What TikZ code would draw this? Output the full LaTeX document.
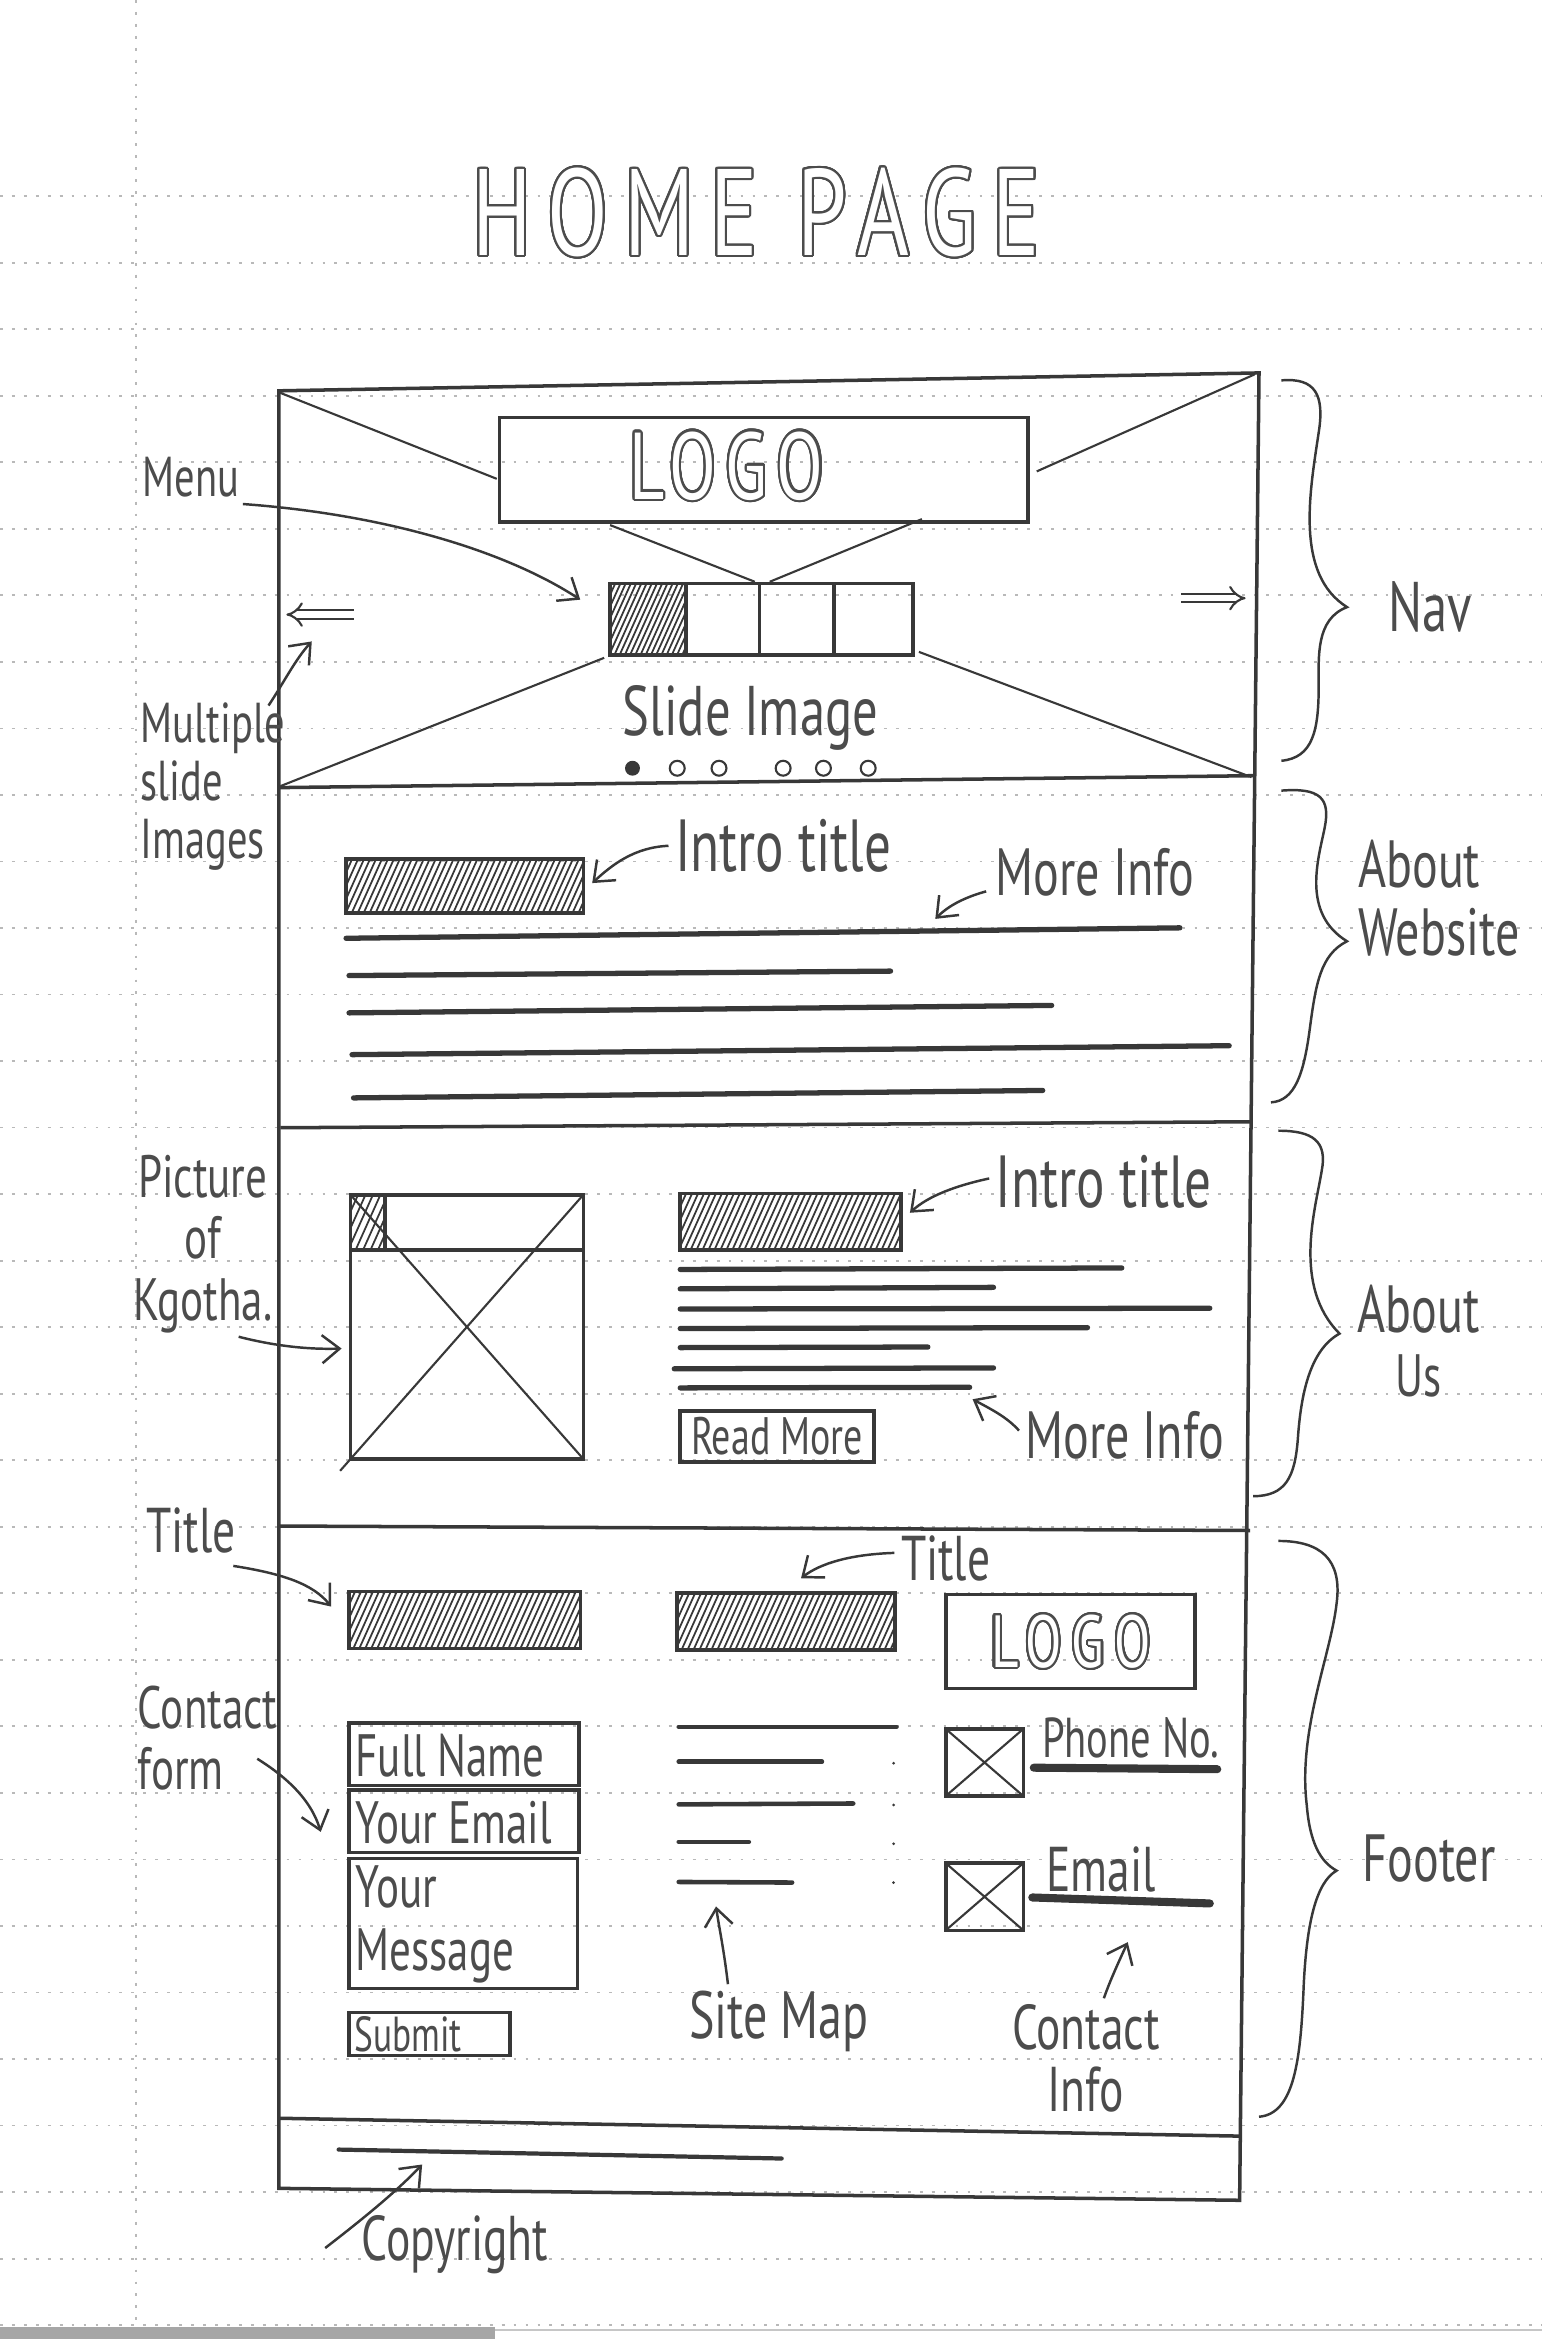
\documentclass[tikz,border=0pt]{standalone}
\usepackage{fontspec}
\usepackage{contour}
\usetikzlibrary{arrows.meta}
\newfontfamily\hand{PT Sans}[FakeStretch=0.72]
\definecolor{pencil}{gray}{0.22}
\definecolor{lead}{gray}{0.30}
\newcommand\fs[1]{\hand\fontsize{#1}{#1}\selectfont}
% hollow, double-stroked lettering
\newcommand\hollow[1]{\contour{lead}{\textcolor{white}{#1}}}
% diagonal pencil shading inside a rectangle: x1,y1,x2,y2,step
\newcommand\hatchrect[5]{%
  \begin{scope}
    \clip (#1,#2) rectangle (#3,#4);
    \pgfmathsetmacro\hA{#1-0.45*(#4-#2)}
    \pgfmathsetmacro\hB{\hA+#5}
    \foreach \hx in {\hA,\hB,...,#3}
      \draw[hatch] (\hx,#4) -- ({\hx+0.45*(#4-#2)},#2);
  \end{scope}
  \draw[frame] (#1,#2) rectangle (#3,#4);}
\tikzset{
  rule/.style={gray!55, line width=0.5pt, dash pattern=on 0.8pt off 2.6pt},
  frame/.style={pencil, line width=1.0pt},
  thinline/.style={pencil, line width=0.6pt},
  textbar/.style={pencil, line width=1.5pt, line cap=round},
  hatch/.style={pencil, line width=0.5pt},
  lbl/.style={text=lead, inner sep=0pt},
  note/.style={pencil, line width=0.7pt, -{Straight Barb[length=5pt,width=8pt]}},
  brace/.style={pencil, line width=0.7pt},
  slidedot/.style={pencil, line width=0.6pt},
  swipe/.style={pencil, line width=0.6pt, double distance=1.8pt, -{Implies[length=4pt]}},
}
\begin{document}
\contourlength{0.6pt}
\contournumber{32}
\begin{tikzpicture}[x=0.14923mm, y=-0.14923mm]
\useasboundingbox (0,0) rectangle (1034,1568);
\fill[white] (0,0) rectangle (1034,1568);

% ruled notebook paper
\foreach \k in {0,...,32}
  \draw[rule] (0,{131.5+44.6*\k}) -- (1034,{131.5+44.6*\k});
\draw[rule] (91,0) -- (91,1568);
\draw[gray!45, line width=0.6pt] (0,1562) -- (1034,1562);
\fill[gray!70] (0,1560) rectangle (332,1568);

% heading
\node[lbl, font=\fs{35}\addfontfeature{LetterSpace=13}] (heading) at (507,143) {\hollow{HOME PAGE}};

% page frame and section dividers
\coordinate (fA) at (187,262);
\coordinate (fB) at (844,250);
\coordinate (fC) at (831,1475);
\coordinate (fD) at (187,1467);
\draw[frame] (fA) -- (fB) -- (fC) -- (fD) -- cycle;
\draw[frame] (187,528) -- (840,520);
\draw[frame] (188,756) -- (839,752);
\draw[frame] (187,1023) -- (838,1026);
\draw[frame] (187,1420) -- (832,1432);

% ---------- Nav / slider ----------
\draw[thinline] (187,263) -- (333,321);
\draw[thinline] (841,251) -- (695,316);
\draw[thinline] (409,352) -- (506,390);
\draw[thinline] (618,348) -- (516,390);
\draw[thinline] (405,441) -- (188,527);
\draw[thinline] (616,437) -- (839,521);
\draw[frame] (335,280) rectangle (689,350);
\node[lbl, font=\fs{27}\addfontfeature{LetterSpace=10}] (navlogo) at (487,313) {\hollow{LOGO}};
\hatchrect{409}{391}{460}{439}{3.5}
\draw[frame] (409,391) rectangle (612,439);
\draw[frame] (460,391) -- (460,439) (509,391) -- (509,439) (559,391) -- (559,439);
\node[lbl, font=\fs{20}] (slide) at (503,481) {Slide Image};
\fill[pencil] (424,515) circle (5);
\foreach \dx in {454,482,525,552,582}
  \draw[slidedot] (\dx,515) circle (5);
\coordinate (prevA) at (237,412);
\coordinate (prevB) at (192,412);
\coordinate (nextA) at (792,401);
\coordinate (nextB) at (835,401);
\draw[swipe] (prevA) -- (prevB);
\draw[swipe] (nextA) -- (nextB);

\node[lbl, font=\fs{16}] (menu) at (128,320) {Menu};
\coordinate (menuT) at (389,402);
\draw[note] (menu.south east) ++(2,4) .. controls (260,345) and (340,370) .. (menuT);
\node[lbl, font=\hand\fontsize{16}{16.5}\selectfont, align=left, anchor=west] (multi) at (94,527) {Multiple\\slide\\Images};
\coordinate (multiS) at (180,473);
\coordinate (multiT) at (209,430);
\draw[note] (multiS) .. controls (190,458) and (198,442) .. (multiT);

% ---------- About Website ----------
\hatchrect{232}{576}{391}{612}{4}
\node[lbl, font=\fs{21}] (intro1) at (525,567) {Intro title};
\coordinate (intro1T) at (397,592);
\draw[note] (intro1.west) ++(-4,0) .. controls (425,568) and (410,580) .. (intro1T);
\node[lbl, font=\fs{19}] (more1) at (734,585) {More Info};
\coordinate (more1T) at (627,616);
\draw[note] (more1.south west) ++(-6,-4) .. controls (645,602) and (635,608) .. (more1T);
\draw[textbar] (232,629) -- (791,622);
\draw[textbar] (234,654) -- (597,651);
\draw[textbar] (234,679) -- (705,674);
\draw[textbar] (236,707) -- (824,701);
\draw[textbar] (237,736) -- (699,731);

% ---------- About Us ----------
\hatchrect{235}{801}{258}{838}{5}
\draw[frame] (235,801) rectangle (391,978);
\draw[frame] (235,838) -- (391,838);
\draw[thinline] (235,801) -- (391,978);
\draw[thinline] (391,801) -- (228,986);
\node[lbl, font=\hand\fontsize{17}{17.5}\selectfont, align=center] (pic) at (136,834) {Picture\\of\\Kgotha.};
\coordinate (picT) at (229,904);
\draw[note] (pic.south) ++(24,2) .. controls (175,900) and (200,905) .. (picT);
\hatchrect{456}{800}{604}{838}{4}
\node[lbl, font=\fs{21}] (intro2) at (740,792) {Intro title};
\coordinate (intro2T) at (610,813);
\draw[note] (intro2.west) ++(-4,-2) .. controls (640,795) and (622,802) .. (intro2T);
\draw[textbar] (456,851) -- (752,850);
\draw[textbar] (456,864) -- (666,863);
\draw[textbar] (456,877.5) -- (811,877);
\draw[textbar] (456,890.6) -- (729,890);
\draw[textbar] (456,903.4) -- (622,903);
\draw[textbar] (452,917.6) -- (666,917);
\draw[textbar] (456,930.4) -- (650,930);
\draw[frame] (456,946) rectangle (586,980);
\node[lbl, font=\fs{15}] (readmore) at (521,963) {Read More};
\node[lbl, font=\fs{19}] (more2) at (754,962) {More Info};
\coordinate (more2T) at (652,938);
\draw[note] (more2.west) ++(-4,-3) .. controls (675,950) and (665,945) .. (more2T);

% ---------- Footer ----------
\node[lbl, font=\fs{18}] (title1) at (128,1026) {Title};
\coordinate (title1T) at (222,1077);
\draw[note] (title1.south east) ++(-2,8) .. controls (190,1055) and (210,1062) .. (title1T);
\hatchrect{234}{1067}{389}{1105}{4}
\hatchrect{454}{1068}{600}{1106}{4}
\node[lbl, font=\fs{18}] (title2) at (634,1045) {Title};
\coordinate (title2T) at (537,1058);
\draw[note] (title2.west) ++(-4,-4) .. controls (570,1042) and (550,1048) .. (title2T);
\draw[frame] (634,1069) rectangle (801,1132);
\node[lbl, font=\fs{21}\addfontfeature{LetterSpace=14}] (footlogo) at (718,1101) {\hollow{LOGO}};

\node[lbl, font=\hand\fontsize{17}{17.5}\selectfont, align=left, anchor=west] (cform) at (92,1165) {Contact\\form};
\coordinate (cformT) at (215,1228);
\draw[note] (cform.east) ++(-14,14) .. controls (190,1190) and (208,1205) .. (cformT);
\draw[frame] (234,1155) rectangle (388,1197);
\node[lbl, font=\fs{17}, anchor=west] (fullname) at (238,1177) {Full Name};
\draw[frame] (234,1200) rectangle (388,1242);
\node[lbl, font=\fs{17}, anchor=west] (youremail) at (238,1222) {Your Email};
\draw[frame] (234,1246) rectangle (387,1333);
\node[lbl, font=\hand\fontsize{17}{18}\selectfont, align=left, anchor=west] (yourmsg) at (238,1290) {Your\\Message};
\draw[frame] (234,1349) rectangle (342,1378);
\node[lbl, font=\fs{14}, anchor=west] (submit) at (237,1364) {Submit};

\draw[textbar, line width=1.3pt] (455,1157.6) -- (601,1157.6);
\draw[textbar, line width=1.3pt] (455,1181) -- (551,1181);
\draw[textbar, line width=1.3pt] (455,1209.6) -- (572,1209);
\draw[textbar, line width=1.3pt] (455,1234.7) -- (502,1234.7);
\draw[textbar, line width=1.3pt] (455,1261.6) -- (531,1262);
\foreach \dy in {1182,1210,1236,1262}
  \fill[pencil] (599,\dy) circle (1);
\node[lbl, font=\fs{19}] (sitemap) at (522,1355) {Site Map};
\coordinate (sitemapT) at (480,1278);
\draw[note] (sitemap.north) ++(-34,-4) .. controls (485,1305) and (482,1292) .. (sitemapT);

\draw[frame] (634,1159) rectangle (686,1204);
\draw[thinline] (634,1159) -- (686,1204) (686,1159) -- (634,1204);
\node[lbl, font=\fs{16}] (phone) at (758,1165) {Phone No.};
\draw[pencil, line width=2.3pt, line cap=round] (693,1185) -- (816,1186);
\draw[frame] (634,1249) rectangle (686,1294);
\draw[thinline] (634,1249) -- (686,1294) (686,1249) -- (634,1294);
\node[lbl, font=\fs{18}] (email) at (738,1253) {Email};
\draw[pencil, line width=2.3pt, line cap=round] (692,1272) -- (811,1276);
\node[lbl, font=\hand\fontsize{18}{17.5}\selectfont, align=center] (cinfo) at (728,1380) {Contact\\Info};
\coordinate (cinfoT) at (756,1302);
\draw[note] (cinfo.north) ++(12,-4) .. controls (744,1328) and (750,1315) .. (cinfoT);

% copyright strip
\draw[textbar, line width=1.2pt] (227,1441) -- (524,1447);
\node[lbl, font=\fs{18}] (copyright) at (305,1505) {Copyright};
\coordinate (copyT) at (283,1451);
\draw[note] (copyright.west) ++(-24,2) .. controls (240,1490) and (265,1470) .. (copyT);

% ---------- section braces ----------
\draw[brace] (859,255) .. controls (882,253) and (888,265) .. (884,290)
  .. controls (878,330) and (868,385) .. (903,407)
  .. controls (882,415) and (884,440) .. (884,460)
  .. controls (884,490) and (880,508) .. (859,510);
\node[lbl, font=\fs{20}] (nav) at (959,407) {Nav};

\draw[brace] (859,530) .. controls (885,528) and (892,535) .. (888,555)
  .. controls (884,575) and (872,612) .. (903,631)
  .. controls (885,640) and (882,660) .. (878,690)
  .. controls (874,720) and (868,738) .. (852,739);
\node[lbl, font=\hand\fontsize{19}{19.5}\selectfont, align=left, anchor=west] (aboutweb) at (910,602) {About\\Website};

\draw[brace] (857,758) .. controls (880,758) and (890,765) .. (886,785)
  .. controls (882,810) and (866,862) .. (898,894)
  .. controls (878,905) and (872,935) .. (870,965)
  .. controls (868,990) and (862,1003) .. (840,1003);
\node[lbl, font=\hand\fontsize{19}{18}\selectfont, align=center] (aboutus) at (951,899) {About\\{\fontsize{17}{18}\selectfont Us}};

\draw[brace] (857,1033) .. controls (885,1033) and (900,1045) .. (896,1075)
  .. controls (892,1110) and (870,1160) .. (876,1210)
  .. controls (878,1235) and (885,1248) .. (896,1254)
  .. controls (882,1262) and (876,1290) .. (874,1330)
  .. controls (872,1380) and (868,1417) .. (844,1419);
\node[lbl, font=\fs{19}] (footer) at (958,1246) {Footer};
\end{tikzpicture}
\end{document}
